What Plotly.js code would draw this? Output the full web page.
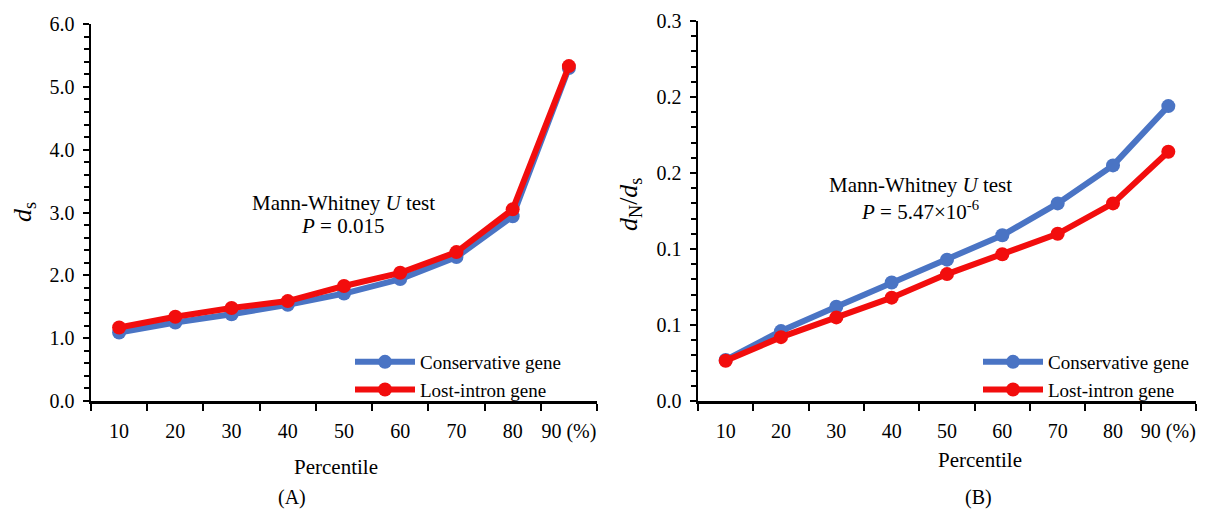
<!DOCTYPE html>
<html>
<head>
<meta charset="utf-8">
<script src="https://cdn.plot.ly/plotly-3.0.1.min.js"></script>
<style>html,body{margin:0;padding:0;background:#fff;}#chart{width:1206px;height:515px;}</style>
</head>
<body>
<div id="chart"></div>
<script>
// ---- data ----
const percentiles = ["10", "20", "30", "40", "50", "60", "70", "80", "90 (%)"];
const dsConservative = [1.09, 1.25, 1.38, 1.53, 1.71, 1.94, 2.29, 2.94, 5.30];
const dsLostIntron   = [1.17, 1.34, 1.48, 1.59, 1.83, 2.04, 2.37, 3.05, 5.33];
const ratioConservative = [0.027, 0.046, 0.062, 0.078, 0.093, 0.109, 0.130, 0.155, 0.194];
const ratioLostIntron   = [0.0265, 0.042, 0.055, 0.068, 0.0835, 0.0965, 0.110, 0.130, 0.164];
const ratioTickVals = [0, 0.05, 0.10, 0.15, 0.20, 0.25];
const ratioTickText = ["0.0", "0.1", "0.1", "0.2", "0.2", "0.3"];
const seriesNames = ["Conservative gene", "Lost-intron gene"];

const BLUE = "#4a74c4";
const RED = "#f20d0d";
const FONT = "Liberation Serif";

function series(x, y, name, color, xa, ya, legend) {
  return {
    type: "scatter", mode: "lines+markers", x: x, y: y, name: name,
    xaxis: xa, yaxis: ya, legend: legend,
    line: {color: color, width: 6},
    marker: {color: color, size: 14, symbol: "circle"},
    hoverinfo: "x+y"
  };
}

const traces = [
  series(percentiles, dsConservative, seriesNames[0], BLUE, "x", "y", "legend"),
  series(percentiles, dsLostIntron, seriesNames[1], RED, "x", "y", "legend"),
  series(percentiles, ratioConservative, seriesNames[0], BLUE, "x2", "y2", "legend2"),
  series(percentiles, ratioLostIntron, seriesNames[1], RED, "x2", "y2", "legend2")
];

const W = 1206, H = 515;
const px = v => v / W;
const py = v => 1 - v / H;

const xBase = {
  type: "category", range: [-0.5, 8.5], fixedrange: true,
  showline: true, linecolor: "#000", linewidth: 2.5,
  ticks: "outside", tickson: "boundaries", ticklen: 7, tickwidth: 2, tickcolor: "#000",
  showgrid: false, zeroline: false, tickangle: 0,
  tickfont: {family: FONT, size: 20, color: "#000"},
  ticklabelstandoff: 10
};
const yBase = {
  showline: true, linecolor: "#000", linewidth: 2.5,
  ticks: "outside", ticklen: 6, tickwidth: 2, tickcolor: "#000",
  showgrid: false, zeroline: false,
  tickfont: {family: FONT, size: 20, color: "#000"},
  ticklabelstandoff: 4
};

function ann(text, x, y, size, extra) {
  return Object.assign({
    text: text, xref: "paper", yref: "paper", x: px(x), y: py(y),
    xanchor: "center", yanchor: "middle", showarrow: false,
    font: {family: FONT, size: size, color: "#000"}
  }, extra || {});
}

const legendBase = {
  xanchor: "left", yanchor: "top",
  bgcolor: "rgba(0,0,0,0)", itemwidth: 60, tracegroupgap: 0,
  font: {family: FONT, size: 19, color: "#000"}
};

const layout = {
  width: W, height: H,
  margin: {l: 0, r: 0, t: 0, b: 0},
  paper_bgcolor: "#fff", plot_bgcolor: "rgba(0,0,0,0)",
  font: {family: FONT, color: "#000"},
  xaxis: Object.assign({}, xBase, {domain: [px(91), px(597)], anchor: "y"}),
  yaxis: Object.assign({}, yBase, {
    domain: [py(401), py(24)], anchor: "x", range: [0, 6],
    dtick: 1, tickformat: ".1f",
    minor: {dtick: 0.2, ticks: "outside", ticklen: 5, tickwidth: 2, tickcolor: "#000"}
  }),
  xaxis2: Object.assign({}, xBase, {domain: [px(698), px(1196)], anchor: "y2"}),
  yaxis2: Object.assign({}, yBase, {
    domain: [py(401), py(21)], anchor: "x2", range: [0, 0.25],
    tickmode: "array", tickvals: ratioTickVals, ticktext: ratioTickText,
    minor: {dtick: 0.01, ticks: "outside", ticklen: 5, tickwidth: 2, tickcolor: "#000"}
  }),
  legend: Object.assign({}, legendBase, {x: px(350), y: py(343)}),
  legend2: Object.assign({}, legendBase, {x: px(978), y: py(343)}),
  showlegend: true,
  annotations: [
    ann("<i>d</i><sub>s</sub>", 24, 212, 26, {textangle: -90}),
    ann("<i>d</i><sub>N</sub>/<i>d</i><sub>s</sub>", 630, 205, 26, {textangle: -90}),
    ann("Mann-Whitney <i>U</i> test", 343, 203, 21),
    ann("<i>P</i> = 0.015", 342, 226, 21),
    ann("Mann-Whitney <i>U</i> test", 920, 185, 21),
    ann("<i>P</i> = 5.47×10<sup>-6</sup>", 920, 210, 21),
    ann("Percentile", 336, 467, 21),
    ann("Percentile", 980, 460, 21),
    ann("(A)", 292, 497, 20),
    ann("(B)", 978, 497, 20)
  ]
};

Plotly.newPlot("chart", traces, layout, {displayModeBar: false, staticPlot: true});
</script>
</body>
</html>
